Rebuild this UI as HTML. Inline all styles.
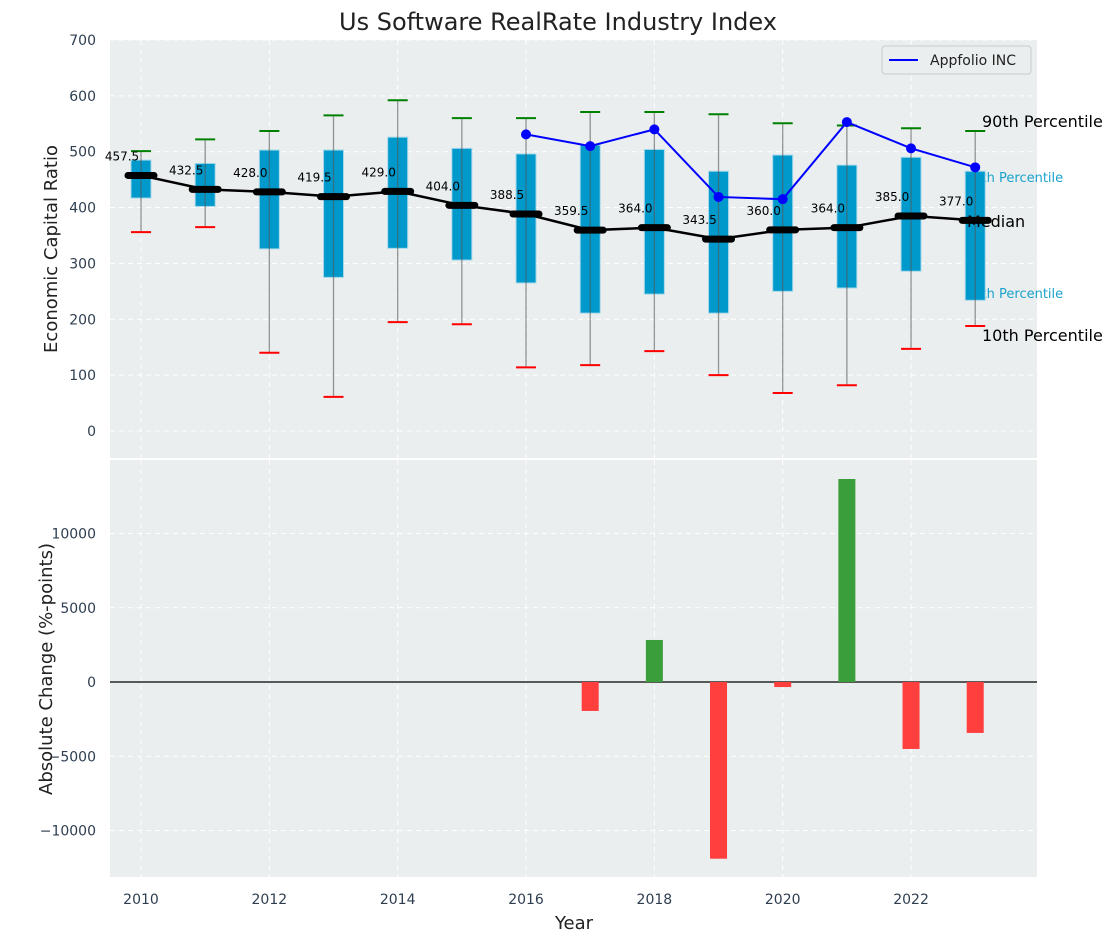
<!DOCTYPE html>
<html><head><meta charset="utf-8"><style>
body{margin:0;background:#fff;font-family:"Liberation Sans","DejaVu Sans",sans-serif}
</style></head><body>
<svg id="c" width="1117" height="942" xmlns="http://www.w3.org/2000/svg" font-family="DejaVu Sans, Liberation Sans, sans-serif"></svg>
<script>
const years=[2010,2011,2012,2013,2014,2015,2016,2017,2018,2019,2020,2021,2022,2023];
const p10=[356,365,140,61,195,191,114,118,143,100,68,82,147,188];
const p25=[417,402,326,275,327,306,265,211,245,211,250,256,286,234];
const med=[457.5,432.5,428.0,419.5,429.0,404.0,388.5,359.5,364.0,343.5,360.0,364.0,385.0,377.0];
const p75=[485,479,503,503,526,506,496,512,504,465,494,476,490,465];
const p90=[501,522,537,565,592,560,560,571,571,567,551,547,542,537];
const appYears=[2016,2017,2018,2019,2020,2021,2022,2023];
const appVals=[531,510,540,419,415,553,506,472];
const chgYears=[2017,2018,2019,2020,2021,2022,2023];
const chgVals=[-1950,2830,-11900,-340,13670,-4510,-3430];
const topTicks=[0,100,200,300,400,500,600,700];
const botTicks=[-10000,-5000,0,5000,10000];
const xTicks=[2010,2012,2014,2016,2018,2020,2022];

const svg=document.getElementById('c');const NS='http://www.w3.org/2000/svg';
function el(t,a,p){const e=document.createElementNS(NS,t);for(const k in a)e.setAttribute(k,a[k]);(p||svg).appendChild(e);return e;}
const X=v=>141+(v-2010)*64.17;
const Y1=v=>431-v*0.5586;
const Y2=v=>682-v*0.01485;
const L=110,R=1037;

let e=el('rect',{x:L,y:40,width:R-L,height:418,fill:'#eaeeee'});

e=el('rect',{x:L,y:460,width:R-L,height:417,fill:'#eaeeee'});

xTicks.forEach(t=>{
 el('line',{x1:X(t),x2:X(t),y1:40,y2:458,stroke:'#fff','stroke-dasharray':'5,4'});
 el('line',{x1:X(t),x2:X(t),y1:460,y2:877,stroke:'#fff','stroke-dasharray':'5,4'});
 e=el('text',{x:X(t),y:904,'text-anchor':'middle','font-size':14,fill:'#2e3e50'});e.textContent=t;
 
});
topTicks.forEach(t=>{
 el('line',{x1:L,x2:R,y1:Y1(t),y2:Y1(t),stroke:'#fff','stroke-dasharray':'5,4'});
 e=el('text',{x:96,y:Y1(t)+5,'text-anchor':'end','font-size':14,fill:'#2e3e50'});e.textContent=t;
 
});
botTicks.forEach(t=>{
 el('line',{x1:L,x2:R,y1:Y2(t),y2:Y2(t),stroke:'#fff','stroke-dasharray':'5,4'});
 e=el('text',{x:96,y:Y2(t)+5,'text-anchor':'end','font-size':14,fill:'#2e3e50'});e.textContent=t<0?'\u2212'+(-t):t;
 
});
function txt(x,y,s,size,fill,name,anchor){const t=el('text',{x:x,y:y,'font-size':size,fill:fill,'text-anchor':anchor||'start'});t.textContent=s;return t;}
txt(965,182,'75th Percentile',13,'#1aa3cc','p75-label');
txt(965,298,'25th Percentile',13,'#1aa3cc','p25-label');
years.forEach((y,i)=>{
 const x=X(y);
 const b=el('rect',{x:x-10,y:Y1(p75[i]),width:20,height:Y1(p25[i])-Y1(p75[i]),fill:'#0099cc',stroke:'#a8d8ea','stroke-width':1});
 
 el('line',{x1:x,x2:x,y1:Y1(p90[i]),y2:Y1(p10[i]),stroke:'#555','stroke-opacity':0.6,'stroke-width':1.3});
 const g=el('line',{x1:x-10,x2:x+10,y1:Y1(p90[i]),y2:Y1(p90[i]),stroke:'green','stroke-width':2});
 
 const r=el('line',{x1:x-10,x2:x+10,y1:Y1(p10[i]),y2:Y1(p10[i]),stroke:'red','stroke-width':2});
 
});
e=el('polyline',{points:years.map((y,i)=>X(y)+','+Y1(med[i])).join(' '),fill:'none',stroke:'#000','stroke-width':2.5});

years.forEach((y,i)=>{
 const m=el('line',{x1:X(y)-13,x2:X(y)+13,y1:Y1(med[i]),y2:Y1(med[i]),stroke:'#000','stroke-width':7,'stroke-linecap':'round'});
 
 txt(X(y)-19,Y1(med[i])-15,med[i].toFixed(1),12,'#000','median-value','middle');
});
e=el('polyline',{points:appYears.map((y,i)=>X(y)+','+Y1(appVals[i])).join(' '),fill:'none',stroke:'blue','stroke-width':2});

appYears.forEach((y,i)=>{const c=el('circle',{cx:X(y),cy:Y1(appVals[i]),r:5,fill:'blue'});});
txt(982,127,'90th Percentile',16,'#000','p90-label');
txt(967,227,'Median',16,'#000','median-label');
txt(982,341,'10th Percentile',16,'#000','p10-label');
const lg=el('g',{});
el('rect',{x:882,y:46,width:149,height:28,rx:3,fill:'#eaeeee',stroke:'#ccc'},lg);
el('line',{x1:889,x2:918,y1:60,y2:60,stroke:'blue','stroke-width':2},lg);
const lt=el('text',{x:930,y:65,'font-size':14,fill:'#222'},lg);lt.textContent='Appfolio INC';

el('line',{x1:L,x2:R,y1:Y2(0),y2:Y2(0),stroke:'#000','stroke-width':1.2});
chgYears.forEach((y,i)=>{
 const v=chgVals[i];const y0=Y2(Math.max(v,0)),y1=Y2(Math.min(v,0));
 const b=el('rect',{x:X(y)-8.5,y:y0,width:17,height:y1-y0,fill:v>=0?'#3a9e3a':'#ff3e3e'});
 
});
txt(558,30,'Us Software RealRate Industry Index',24,'#222','chart-title','middle');
txt(574,929,'Year',18,'#222','x-axis-title','middle');
e=txt(0,0,'Economic Capital Ratio',18,'#222','top-y-axis-title','middle');e.setAttribute('transform','translate(57,249) rotate(-90)');
e=txt(0,0,'Absolute Change (%-points)',18,'#222','bottom-y-axis-title','middle');e.setAttribute('transform','translate(52,669) rotate(-90)');
</script></body></html>
